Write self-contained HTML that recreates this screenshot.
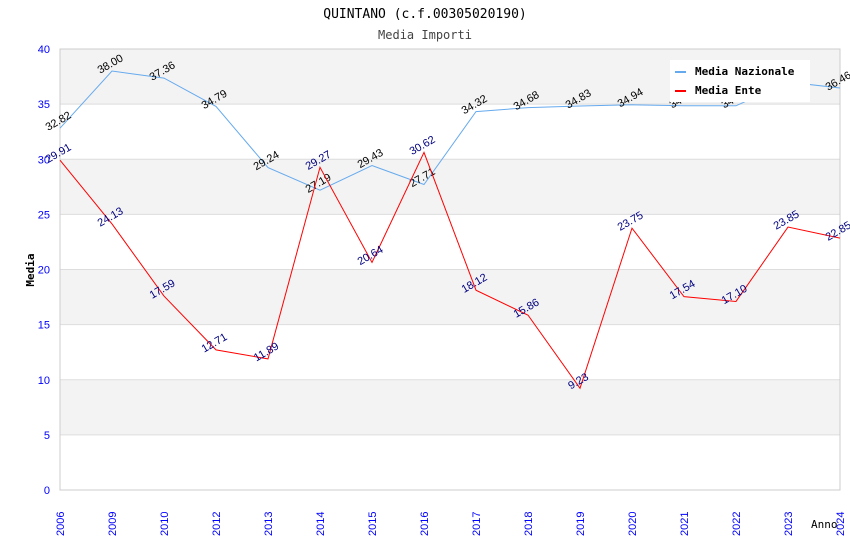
<!DOCTYPE html>
<html><head><meta charset="utf-8"><style>
body{margin:0;background:#fff}
svg{display:block;font-family:"Liberation Sans",sans-serif}
.mono{font-family:"DejaVu Sans Mono","Liberation Mono",monospace}
</style></head><body>
<svg id="c" width="850" height="550"></svg>
<script>
const years=["2006","2009","2010","2012","2013","2014","2015","2016","2017","2018","2019","2020","2021","2022","2023","2024"];
const naz=[32.82,38.00,37.36,34.79,29.24,27.19,29.43,27.71,34.32,34.68,34.83,34.94,34.85,34.85,37.00,36.46];
const ente=[29.91,24.13,17.59,12.71,11.89,29.27,20.64,30.62,18.12,15.86,9.23,23.75,17.54,17.10,23.85,22.85];
const yTicks=[0,5,10,15,20,25,30,35,40];
const L=60,R=840,T=49,B=490,NS="http://www.w3.org/2000/svg";
const svg=document.getElementById('c');
const x=i=>L+i*(R-L)/(years.length-1);
const y=v=>B-(v/40)*(B-T);
function el(t,a,txt){const e=document.createElementNS(NS,t);for(const k in a)e.setAttribute(k,a[k]);if(txt!==undefined)e.textContent=txt;svg.appendChild(e);return e;}
for(let i=0;i<yTicks.length-1;i++){
 const b=el('rect',{x:L,y:y(yTicks[i+1]),width:R-L,height:y(yTicks[i])-y(yTicks[i+1]),fill:i%2?'#f3f3f3':'#fff'});
 
 
}
yTicks.forEach(v=>{
 const g=el('line',{x1:L,x2:R,y1:y(v),y2:y(v),stroke:'#ddd'});
 
 
 const t=el('text',{x:L-10,y:y(v)+4,'text-anchor':'end','font-size':11,fill:'#00f'},v);
 
 
});
const fr=el('rect',{x:L,y:T,width:R-L,height:B-T,fill:'none',stroke:'#ccc'});


years.forEach((yr,i)=>{
 const t=el('text',{x:0,y:0,transform:`translate(${x(i)+4},${B+46}) rotate(-90)`,'font-size':11,fill:'#00f'},yr);
 
 
});
function series(d,col,lc,name){
 const p=el('polyline',{points:d.map((v,i)=>x(i)+','+y(v)).join(' '),fill:'none',stroke:col,'stroke-width':1});
 
 
 d.forEach((v,i)=>{
  const t=el('text',{x:0,y:0,transform:`translate(${x(i)},${y(v)-4}) rotate(-30)`,'text-anchor':'middle','font-size':11,fill:lc},v.toFixed(2));
  
  
 });
}
series(naz,'#66aaee','#000','media-nazionale');
series(ente,'#f00','#000080','media-ente');
const lg=el('rect',{x:670,y:60,width:140,height:42,fill:'#fff'});


const l1=el('line',{x1:675,x2:686,y1:72,y2:72,stroke:'#66aaee','stroke-width':2});


const t1=el('text',{x:695,y:75,'font-size':11,'font-weight':'bold',class:'mono'},'Media Nazionale');


const l2=el('line',{x1:675,x2:686,y1:91,y2:91,stroke:'#f00','stroke-width':2});


const t2=el('text',{x:695,y:94,'font-size':11,'font-weight':'bold',class:'mono'},'Media Ente');


const ti=el('text',{x:425,y:18,'text-anchor':'middle','font-size':13,class:'mono'},'QUINTANO (c.f.00305020190)');


const st=el('text',{x:425,y:39,'text-anchor':'middle','font-size':12,fill:'#444',class:'mono'},'Media Importi');


const yt=el('text',{x:0,y:0,transform:'translate(34,270) rotate(-90)','text-anchor':'middle','font-size':11,'font-weight':'bold',class:'mono'},'Media');


const xt=el('text',{x:811,y:528,'font-size':11,class:'mono'},'Anno');


</script>
</body></html>
